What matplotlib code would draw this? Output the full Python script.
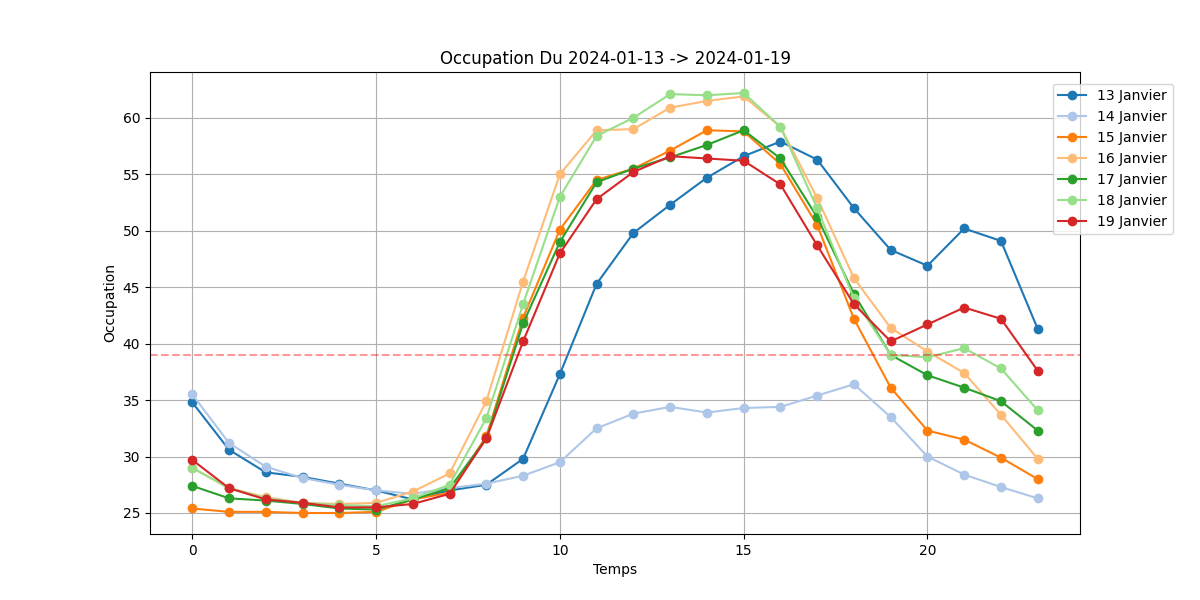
import matplotlib
matplotlib.use("Agg")
import matplotlib.pyplot as plt

hours = list(range(24))
labels = ["13 Janvier", "14 Janvier", "15 Janvier", "16 Janvier",
          "17 Janvier", "18 Janvier", "19 Janvier"]
colors = ["#1f77b4", "#aec7e8", "#ff7f0e", "#ffbb78", "#2ca02c", "#98df8a", "#d62728"]

jan13 = [34.8, 30.6, 28.6, 28.2, 27.6, 27.0, 26.2, 27.0, 27.5, 29.8, 37.3, 45.3,
         49.8, 52.3, 54.7, 56.6, 57.9, 56.3, 52.0, 48.3, 46.9, 50.2, 49.1, 41.3]
jan14 = [35.5, 31.2, 29.1, 28.1, 27.5, 27.0, 26.7, 27.2, 27.6, 28.3, 29.5, 32.5,
         33.8, 34.4, 33.9, 34.3, 34.4, 35.4, 36.4, 33.5, 30.0, 28.4, 27.3, 26.3]
jan15 = [25.4, 25.1, 25.1, 25.0, 25.0, 25.1, 26.2, 26.8, 31.8, 42.3, 50.1, 54.5,
         55.5, 57.1, 58.9, 58.8, 55.9, 50.5, 42.2, 36.1, 32.3, 31.5, 29.9, 28.0]
jan16 = [29.0, 27.2, 26.4, 25.9, 25.8, 25.9, 26.9, 28.5, 34.9, 45.5, 55.0, 58.9,
         59.0, 60.9, 61.5, 61.9, 59.2, 52.9, 45.8, 41.4, 39.3, 37.4, 33.7, 29.8]
jan17 = [27.4, 26.3, 26.1, 25.8, 25.4, 25.3, 26.2, 27.2, 31.6, 41.8, 49.0, 54.3,
         55.5, 56.5, 57.6, 58.9, 56.4, 51.2, 44.4, 39.0, 37.2, 36.1, 34.9, 32.3]
jan18 = [29.0, 27.2, 26.3, 25.9, 25.7, 25.6, 26.3, 27.5, 33.4, 43.5, 53.0, 58.4,
         60.0, 62.1, 62.0, 62.2, 59.2, 52.0, 44.0, 39.0, 38.8, 39.6, 37.8, 34.1]
jan19 = [29.7, 27.2, 26.2, 25.9, 25.5, 25.5, 25.8, 26.7, 31.6, 40.2, 48.0, 52.8,
         55.2, 56.6, 56.4, 56.2, 54.1, 48.7, 43.5, 40.2, 41.7, 43.2, 42.2, 37.6]
series = [jan13, jan14, jan15, jan16, jan17, jan18, jan19]
threshold = 39

fig, ax = plt.subplots(figsize=(12, 6), dpi=100)
for vals, lab, col in zip(series, labels, colors):
    ax.plot(hours, vals, marker='o', color=col, label=lab)
ax.axhline(threshold, color='red', linestyle='--', alpha=0.4)
ax.set_title('Occupation Du 2024-01-13 -> 2024-01-19')
ax.set_xlabel('Temps')
ax.set_ylabel('Occupation')
ax.grid(True)
ax.legend(loc='upper right', bbox_to_anchor=(1.107, 0.99))
fig.savefig('out.png')
